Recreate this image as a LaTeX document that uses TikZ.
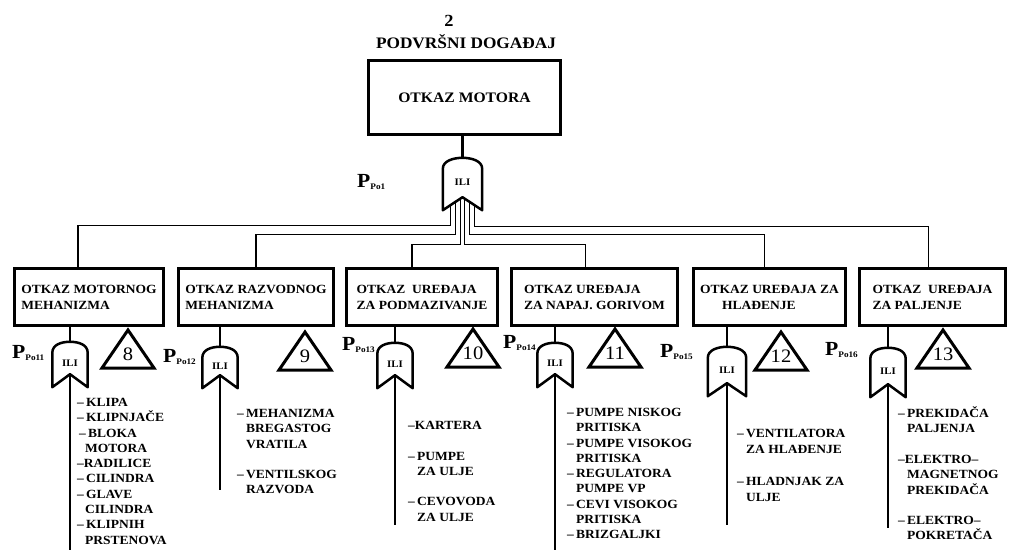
\documentclass[tikz,border=0pt]{standalone}
\usepackage{fontspec}
\setmainfont{Liberation Serif}[FakeStretch=1.08]
\usetikzlibrary{calc}

\newcommand{\gateoutline}[1]{%
  \draw[gateline] (#1.south west) -- ($(#1.north west)+(0,11)$)
    .. controls ($(#1.north west)+(0,3)$) and ($(#1.north)+(-9,0)$) .. (#1.north)
    .. controls ($(#1.north)+(9,0)$) and ($(#1.north east)+(0,3)$) .. ($(#1.north east)+(0,11)$)
    -- (#1.south east) -- ($(#1.south)+(0,-13)$) -- cycle;
  \coordinate (#1n) at ($(#1.south)+(0,-13)$);}
\newcommand{\trishape}[1]{%
  \draw[tri] ($(#1)+(0,-24)$) -- ($(#1)+(26,14)$) -- ($(#1)+(-26,14)$) -- cycle;}
\newcommand{\lidash}{\makebox[9pt][l]{–}}
\newcommand{\plab}[1]{{\fontsize{20}{20}\selectfont P}{\fontsize{8.5}{8.5}\selectfont\raisebox{-2pt}{#1}}}

\begin{document}
\begin{tikzpicture}[x=1pt,y=-1pt,
  box/.style={draw, line width=3pt, line join=miter, inner sep=0pt, align=left,
    font=\bfseries\fontsize{12.5}{16}\selectfont, minimum height=57pt},
  gate/.style={inner sep=0pt, font=\bfseries\fontsize{10}{10}\selectfont},
  gateline/.style={line width=2.5pt, line join=round},
  tri/.style={line width=3pt, line join=miter},
  trinum/.style={inner sep=0pt, font=\fontsize{19}{19}\selectfont},
  stem/.style={line width=2.5pt},
  conn/.style={line width=1.3pt},
  listline/.style={line width=1.2pt},
  listtxt/.style={anchor=north west, inner sep=0pt, align=left,
    font=\bfseries\fontsize{12.5}{15.3}\selectfont},
  plabel/.style={anchor=base west, inner sep=0pt, font=\bfseries}
]
\useasboundingbox (0,0) rectangle (1009,550);

% top event
\node[inner sep=0pt, font=\bfseries\fontsize{17}{17}\selectfont] (n2) at (449,21) {2};
\node[inner sep=0pt, font=\bfseries\fontsize{16}{16}\selectfont] (ev) at (466,42) {PODVRŠNI DOGAĐAJ};
\node[box, minimum width=192pt, minimum height=74pt, align=center,
  font=\bfseries\fontsize{14.5}{16}\selectfont] (top) at (464.5,97.5) {OTKAZ MOTORA};

\node[gate, minimum width=39pt, minimum height=52pt] (g0) at (462.5,184) {\raisebox{3pt}{ILI}};
\gateoutline{g0}
\draw[stem] (g0.north |- top.south) -- (g0.north);
\node[plabel] (p0) at (357,187) {\plab{Po1}};

% intermediate events
\node[box, minimum width=149pt] (b1) at (89,297) {OTKAZ MOTORNOG\\MEHANIZMA};
\node[box, minimum width=155pt] (b2) at (256,297) {OTKAZ RAZVODNOG\\MEHANIZMA};
\node[box, minimum width=151pt] (b3) at (422,297) {OTKAZ \ UREĐAJA\\ZA PODMAZIVANJE};
\node[box, minimum width=166pt] (b4) at (594.5,297) {OTKAZ UREĐAJA\\ZA NAPAJ. GORIVOM};
\node[box, minimum width=152pt] (b5) at (769.5,297) {OTKAZ UREĐAJA ZA\\\hspace*{22pt}HLAĐENJE};
\node[box, minimum width=146pt] (b6) at (932.5,297) {OTKAZ \ UREĐAJA\\ZA PALJENJE};

% connectors from top gate
\draw[conn] ($(g0.south)+(-12,-5)$) -- ++(0,20) -| ([xshift=-11pt]b1.north);
\draw[conn] ($(g0.south)+(-7,-8)$) -- ++(0,32) -| (b2.north);
\draw[conn] ($(g0.south)+(-2,-11)$) -- ++(0,45) -| ([xshift=-10pt]b3.north);
\draw[conn] ($(g0.south)+(2,-11)$) -- ++(0,45) -| ([xshift=-9pt]b4.north);
\draw[conn] ($(g0.south)+(7,-8)$) -- ++(0,32) -| ([xshift=-5pt]b5.north);
\draw[conn] ($(g0.south)+(12,-5)$) -- ++(0,21) -| ([xshift=-4pt]b6.north);

% gates
\node[gate, minimum width=35pt, minimum height=45pt] (g1) at (70,364.5) {\raisebox{3pt}{ILI}};
\node[gate, minimum width=35pt, minimum height=41pt] (g2) at (220,367.5) {\raisebox{3pt}{ILI}};
\node[gate, minimum width=35pt, minimum height=45pt] (g3) at (395,365.5) {\raisebox{3pt}{ILI}};
\node[gate, minimum width=35pt, minimum height=44pt] (g4) at (555,365) {\raisebox{3pt}{ILI}};
\node[gate, minimum width=38pt, minimum height=49pt] (g5) at (727,371.5) {\raisebox{3pt}{ILI}};
\node[gate, minimum width=35pt, minimum height=49pt] (g6) at (888,372.5) {\raisebox{3pt}{ILI}};
\foreach \g in {g1,g2,g3,g4,g5,g6} {\gateoutline{\g}}
\foreach \b/\g in {b1/g1,b2/g2,b3/g3,b4/g4,b5/g5,b6/g6}
  {\draw[stem] (\g.north |- \b.south) -- (\g.north);}

% probability labels
\node[plabel] (p11) at (12,358) {\plab{Po11}};
\node[plabel] (p12) at (163,362) {\plab{Po12}};
\node[plabel] (p13) at (342,350) {\plab{Po13}};
\node[plabel] (p14) at (503,348) {\plab{Po14}};
\node[plabel] (p15) at (660,357) {\plab{Po15}};
\node[plabel] (p16) at (825,355) {\plab{Po16}};

% transfer triangles
\node[trinum] (t8) at (128,354) {8};
\node[trinum] (t9) at (305,356) {9};
\node[trinum] (t10) at (473,353) {10};
\node[trinum] (t11) at (615,353) {11};
\node[trinum] (t12) at (781,356) {12};
\node[trinum] (t13) at (943,354) {13};
\foreach \t in {t8,t9,t10,t11,t12,t13} {\trishape{\t}}

% input lines
\coordinate (e1) at (69,550);
\coordinate (e2) at (220,490);
\coordinate (e3) at (395,525);
\coordinate (e4) at (555,550);
\coordinate (e5) at (727,525);
\coordinate (e6) at (888,528);
\foreach \g/\e in {g1/e1,g2/e2,g3/e3,g4/e4,g5/e5,g6/e6}
  {\draw[listline] (\g n) -- (\g n |- \e);}

% lists
\node[listtxt] (l1) at (77,398) {\lidash KLIPA\\\lidash KLIPNJAČE\\\hspace*{2pt}\lidash BLOKA\\\hspace*{8pt}MOTORA\\–RADILICE\\\lidash CILINDRA\\\lidash GLAVE\\\hspace*{8pt}CILINDRA\\\lidash KLIPNIH\\\hspace*{8pt}PRSTENOVA};
\node[listtxt] (l2) at (237,409) {\lidash MEHANIZMA\\\hspace*{9pt}BREGASTOG\\\hspace*{9pt}VRATILA\\[15.3pt]\lidash VENTILSKOG\\\hspace*{9pt}RAZVODA};
\node[listtxt] (l3) at (408,421) {–KARTERA\\[15.3pt]\lidash PUMPE\\\hspace*{9pt}ZA ULJE\\[15.3pt]\lidash CEVOVODA\\\hspace*{9pt}ZA ULJE};
\node[listtxt] (l4) at (567,408) {\lidash PUMPE NISKOG\\\hspace*{9pt}PRITISKA\\\lidash PUMPE VISOKOG\\\hspace*{9pt}PRITISKA\\\lidash REGULATORA\\\hspace*{9pt}PUMPE VP\\\lidash CEVI VISOKOG\\\hspace*{9pt}PRITISKA\\\lidash BRIZGALJKI};
\node[listtxt, font=\bfseries\fontsize{12.5}{16}\selectfont] (l5) at (737,429) {\lidash VENTILATORA\\\hspace*{9pt}ZA HLAĐENJE\\[16pt]\lidash HLADNJAK ZA\\\hspace*{9pt}ULJE};
\node[listtxt] (l6) at (898,406.5) {\lidash PREKIDAČA\\\hspace*{9pt}PALJENJA\\[15.3pt]–ELEKTRO–\\\hspace*{9pt}MAGNETNOG\\\hspace*{9pt}PREKIDAČA\\[15.3pt]\lidash ELEKTRO–\\\hspace*{9pt}POKRETAČA};
\end{tikzpicture}
\end{document}
